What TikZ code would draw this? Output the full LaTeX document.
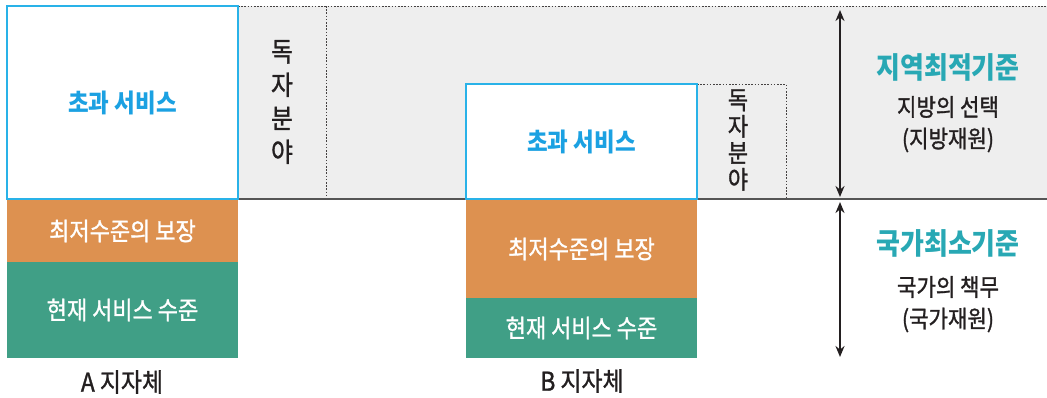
\documentclass[tikz,border=0pt]{standalone}
\usepackage{fontspec}
\newfontfamily\kr[FakeStretch=0.88]{Noto Sans CJK KR}
\newfontfamily\krm[FakeStretch=0.88,FakeBold=1.2]{Noto Sans CJK KR}
\usetikzlibrary{arrows.meta}
\definecolor{blueline}{RGB}{41,178,232}
\definecolor{bluetext}{RGB}{27,161,226}
\definecolor{orangebox}{RGB}{221,145,80}
\definecolor{tealbox}{RGB}{64,159,134}
\definecolor{tealtext}{RGB}{40,168,180}
\definecolor{graybg}{RGB}{238,238,238}
\definecolor{ink}{RGB}{35,31,32}
\definecolor{rule}{RGB}{85,85,85}
\tikzset{
  box/.style={inner sep=0pt, outer sep=0pt, anchor=north west, align=center},
  excess/.style={box, fill=white, draw=blueline, line width=1.4pt, text=bluetext, font=\kr\bfseries\fontsize{25.5}{25.5}\selectfont},
  minbox/.style={box, fill=orangebox, text=white, font=\krm\fontsize{25}{25}\selectfont},
  curbox/.style={box, fill=tealbox, text=white, font=\krm\fontsize{25}{25}\selectfont},
  dotline/.style={draw=ink!85, line width=1pt, dash pattern=on 1.6pt off 1.6pt},
  vtextA/.style={text=ink, align=center, inner sep=0pt, font=\krm\fontsize{27}{33.5}\selectfont},
  vtextB/.style={text=ink, align=center, inner sep=0pt, font=\krm\fontsize{25}{26.5}\selectfont},
  caption/.style={text=ink, inner sep=0pt, font=\krm\fontsize{26}{26}\selectfont},
  heading/.style={text=tealtext, inner sep=0pt, font=\kr\bfseries\fontsize{29.5}{29.5}\selectfont},
  note/.style={text=ink, inner sep=0pt, font=\krm\fontsize{24}{24}\selectfont},
  dimarrow/.style={draw=ink, line width=2.2pt, {Stealth[length=11pt,width=9pt]}-{Stealth[length=11pt,width=9pt]}}
}
\begin{document}
\begin{tikzpicture}[x=1pt,y=-1pt]
\useasboundingbox (0,0) rectangle (1047,397);
\fill[white] (0,0) rectangle (1047,397);
% gray optional area
\fill[graybg] (238,6) rectangle (1047,199);
\coordinate (topL) at (238,6);
\coordinate (topR) at (1047,6);
\coordinate (sepT) at (326,6);
\coordinate (sepB) at (326,199);
\coordinate (baseL) at (238,199);
\coordinate (baseR) at (1047,199);
\draw[dotline] (topL) -- (topR);
\draw[dotline] (sepT) -- (sepB);
\draw[draw=rule, line width=1.2pt] (baseL) -- (baseR);

% A municipality
\node[excess, minimum width=231pt, minimum height=193pt] (aexc) at (7,6) {초과 서비스};
\node[minbox, minimum width=231pt, minimum height=62pt] (amin) at (7,200) {최저수준의 보장};
\node[curbox, minimum width=231pt, minimum height=96pt] (acur) at (7,262) {현재 서비스 수준};
\node[vtextA] (aind) at (282,102) {독\\자\\분\\야};
\node[caption] (acap) at (122,382) {A 지자체};

% B municipality
\coordinate (bdotL) at (697,84);
\coordinate (bdotR) at (786,84);
\coordinate (bdotB) at (786,199);
\draw[dotline] (bdotL) -- (bdotR) -- (bdotB);
\node[excess, minimum width=231pt, minimum height=115pt] (bexc) at (466,84) {초과 서비스};
\node[minbox, minimum width=231pt, minimum height=98pt] (bmin) at (466,200) {최저수준의 보장};
\node[curbox, minimum width=231pt, minimum height=60pt] (bcur) at (466,298) {현재 서비스 수준};
\node[vtextB] (bind) at (738,140) {독\\자\\분\\야};
\node[caption] (bcap) at (582,381) {B 지자체};

% arrows
\coordinate (ar1) at (840,10);
\coordinate (ar2) at (840,197);
\coordinate (ar3) at (840,202);
\coordinate (ar4) at (840,357);
\draw[dimarrow] (ar1) -- (ar2);
\draw[dimarrow] (ar3) -- (ar4);

% right texts
\node[heading] (h1) at (948,67) {지역최적기준};
\node[note] (n1) at (948,107) {지방의 선택};
\node[note] (n2) at (948,140) {(지방재원)};
\node[heading] (h2) at (948,243) {국가최소기준};
\node[note] (n3) at (948,287) {국가의 책무};
\node[note] (n4) at (948,320) {(국가재원)};
\end{tikzpicture}
\end{document}
